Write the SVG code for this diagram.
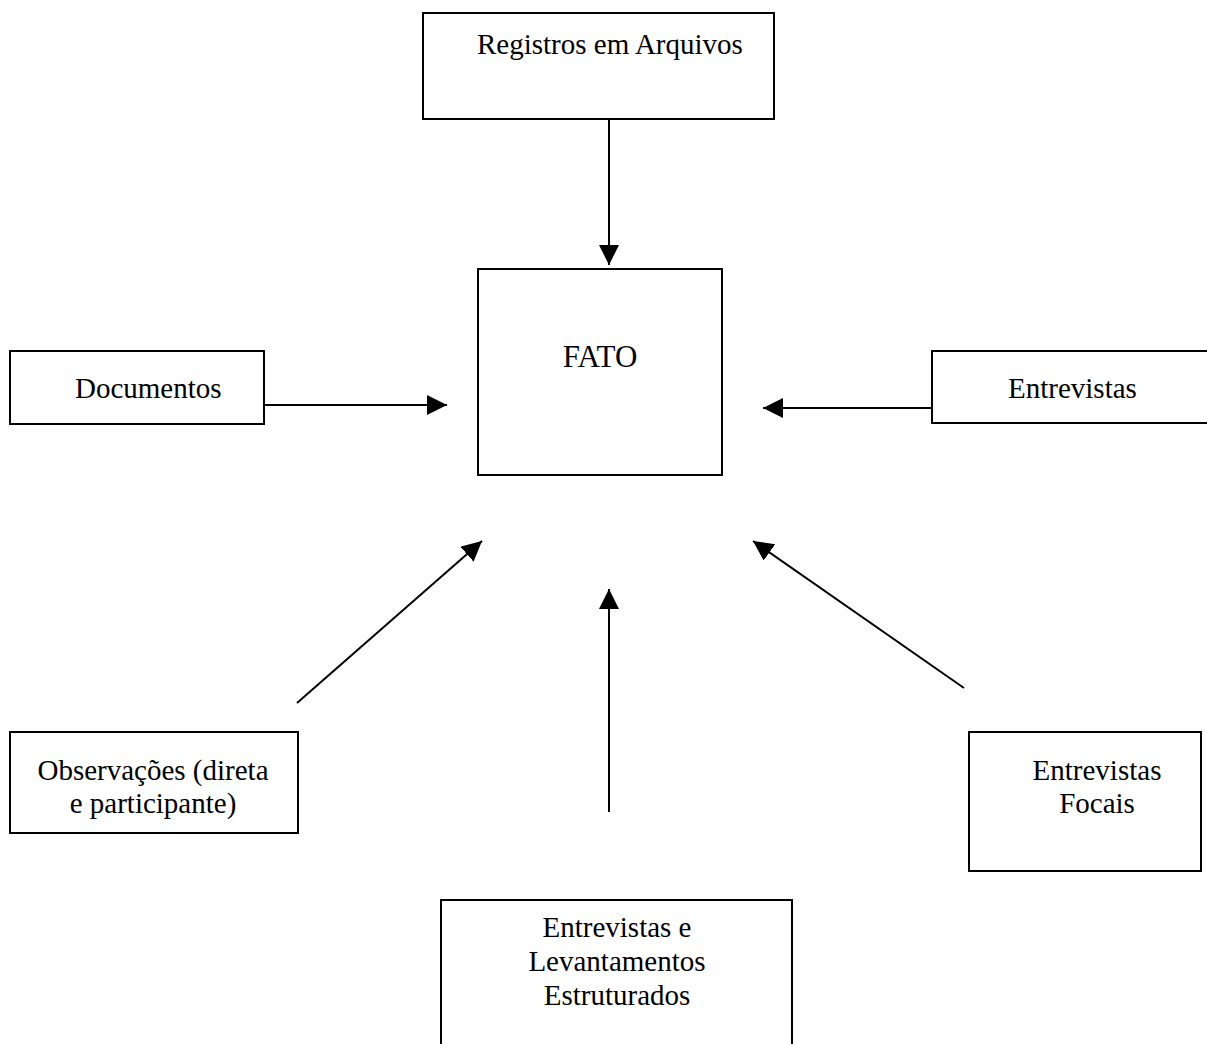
<svg xmlns="http://www.w3.org/2000/svg" width="1207" height="1044" viewBox="0 0 1207 1044">
<style>
.box{fill:#fff;stroke:#000;stroke-width:2}
.lbl{font-family:"Liberation Serif","Times New Roman",serif;font-size:29px;fill:#000}
.c{text-anchor:middle}
.con{stroke:#000;stroke-width:2;fill:none}
</style>
<defs>
<marker id="ah" markerUnits="userSpaceOnUse" markerWidth="20" markerHeight="20" refX="20" refY="10" orient="auto">
<path d="M0,0 L20,10 L0,20 z" fill="#000"/>
</marker>
</defs>
<rect width="1207" height="1044" fill="#fff"/>
<g id="connectors">
<line class="con" x1="609" y1="119" x2="609" y2="265" marker-end="url(#ah)"/>
<line class="con" x1="264" y1="405" x2="447" y2="405" marker-end="url(#ah)"/>
<line class="con" x1="932" y1="408" x2="763" y2="408" marker-end="url(#ah)"/>
<line class="con" x1="297" y1="703" x2="482" y2="541" marker-end="url(#ah)"/>
<line class="con" x1="609" y1="812" x2="609" y2="589" marker-end="url(#ah)"/>
<line class="con" x1="964" y1="688" x2="753" y2="541" marker-end="url(#ah)"/>
</g>
<g id="registros">
<rect class="box" x="423" y="13" width="351" height="106"/>
<text class="lbl" x="477" y="54">Registros em Arquivos</text>
</g>
<g id="fato">
<rect class="box" x="478" y="269" width="244" height="206"/>
<text class="lbl c" x="600" y="367" style="font-size:31px">FATO</text>
</g>
<g id="documentos">
<rect class="box" x="10" y="351" width="254" height="73"/>
<text class="lbl" x="75" y="398">Documentos</text>
</g>
<g id="entrevistas">
<rect class="box" x="932" y="351" width="280" height="72"/>
<text class="lbl" x="1008" y="398">Entrevistas</text>
</g>
<g id="observacoes">
<rect class="box" x="10" y="732" width="288" height="101"/>
<text class="lbl c" x="153" y="780">Observações (direta</text>
<text class="lbl c" x="153" y="813">e participante)</text>
</g>
<g id="focais">
<rect class="box" x="969" y="732" width="232" height="139"/>
<text class="lbl c" x="1097" y="780">Entrevistas</text>
<text class="lbl c" x="1097" y="813">Focais</text>
</g>
<g id="levantamentos">
<rect class="box" x="441" y="900" width="351" height="160"/>
<text class="lbl c" x="617" y="937">Entrevistas e</text>
<text class="lbl c" x="617" y="971">Levantamentos</text>
<text class="lbl c" x="617" y="1005">Estruturados</text>
</g>
</svg>
